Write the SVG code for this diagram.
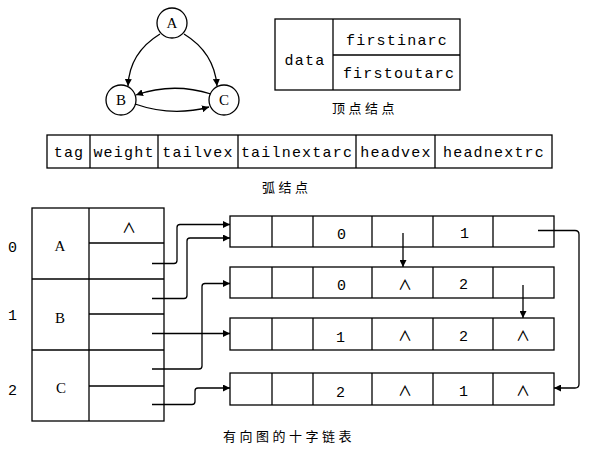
<svg xmlns="http://www.w3.org/2000/svg" width="592" height="451" viewBox="0 0 592 451">
<defs>
<style>
.s{fill:none;stroke:#000;stroke-width:1.3}
.b{fill:#fff;stroke:#000;stroke-width:1.3}
.t{font-family:"Liberation Mono",monospace;font-size:15px;fill:#000;text-anchor:middle;letter-spacing:1.2px}
.n{font-family:"Noto Sans CJK SC",sans-serif;font-size:14px;font-weight:500;fill:#000;text-anchor:middle}
.g{font-family:"Liberation Serif",serif;font-size:15px;fill:#000;text-anchor:middle}
.c{font-family:"Noto Sans CJK SC",sans-serif;font-size:13px;fill:#000;letter-spacing:3.5px}
.a{fill:none;stroke:#000;stroke-width:1.3;marker-end:url(#ah)}
</style>
<marker id="ah" viewBox="0 0 8 8" refX="8" refY="4" markerWidth="7" markerHeight="7" markerUnits="userSpaceOnUse" orient="auto">
<path d="M0,0 L8,4 L0,8 z" fill="#000"/>
</marker>
</defs>

<g id="graph">
<g id="vA"><circle class="b" cx="172" cy="23" r="15"/><text class="g" x="172" y="28">A</text></g>
<g id="vB"><circle class="b" cx="121" cy="100" r="15"/><text class="g" x="121" y="105">B</text></g>
<g id="vC"><circle class="b" cx="224" cy="100" r="15"/><text class="g" x="224" y="105">C</text></g>
</g>
<g id="graph-edges">
<path class="a" d="M160,34 C142,45 129,62 128,86"/>
<path class="a" d="M184,34 C202,45 215,62 217,86"/>
<path class="a" d="M211,94 Q173,82 136,95"/>
<path class="a" d="M135,104 Q172,117 209,107"/>
</g>

<g id="vertex-node">
<rect class="b" x="275" y="19" width="185" height="71"/>
<line class="s" x1="333" y1="19" x2="333" y2="90"/>
<line class="s" x1="333" y1="55" x2="460" y2="55"/>
<text class="t" x="305" y="65">data</text>
<text class="t" x="397" y="45">firstinarc</text>
<text class="t" x="399" y="78">firstoutarc</text>
<text class="c" x="332" y="113">顶点结点</text>
</g>

<g id="arc-node">
<rect class="b" x="47" y="135" width="505" height="33"/>
<line class="s" x1="90" y1="135" x2="90" y2="168"/>
<line class="s" x1="158" y1="135" x2="158" y2="168"/>
<line class="s" x1="238" y1="135" x2="238" y2="168"/>
<line class="s" x1="356" y1="135" x2="356" y2="168"/>
<line class="s" x1="435" y1="135" x2="435" y2="168"/>
<text class="t" x="69" y="157">tag</text>
<text class="t" x="124" y="157">weight</text>
<text class="t" x="198" y="157">tailvex</text>
<text class="t" x="297" y="157">tailnextarc</text>
<text class="t" x="396" y="157">headvex</text>
<text class="t" x="494" y="157">headnextrc</text>
<text class="c" x="262" y="192">弧结点</text>
</g>

<g id="vertex-table">
<rect class="b" x="32" y="208" width="132" height="213"/>
<line class="s" x1="89" y1="208" x2="89" y2="421"/>
<line class="s" x1="32" y1="279" x2="164" y2="279"/>
<line class="s" x1="32" y1="350" x2="164" y2="350"/>
<line class="s" x1="89" y1="243" x2="164" y2="243"/>
<line class="s" x1="89" y1="314" x2="164" y2="314"/>
<line class="s" x1="89" y1="386" x2="164" y2="386"/>
<text class="t" x="13" y="252">0</text>
<text class="t" x="13" y="320">1</text>
<text class="t" x="13" y="395">2</text>
<text class="g" x="60" y="251">A</text>
<text class="g" x="60" y="323">B</text>
<text class="g" x="61" y="393">C</text>
<text class="n" x="129" y="233">∧</text>
</g>

<g id="arc-AB">
<rect class="b" x="230" y="216" width="324" height="31"/>
<line class="s" x1="272" y1="216" x2="272" y2="247"/>
<line class="s" x1="313" y1="216" x2="313" y2="247"/>
<line class="s" x1="372" y1="216" x2="372" y2="247"/>
<line class="s" x1="433" y1="216" x2="433" y2="247"/>
<line class="s" x1="493" y1="216" x2="493" y2="247"/>
<text class="t" x="342" y="239">0</text>
<text class="t" x="465" y="238">1</text>
</g>
<g id="arc-AC">
<rect class="b" x="230" y="267" width="324" height="31"/>
<line class="s" x1="272" y1="267" x2="272" y2="298"/>
<line class="s" x1="313" y1="267" x2="313" y2="298"/>
<line class="s" x1="372" y1="267" x2="372" y2="298"/>
<line class="s" x1="433" y1="267" x2="433" y2="298"/>
<line class="s" x1="493" y1="267" x2="493" y2="298"/>
<text class="t" x="342" y="290">0</text>
<text class="n" x="405" y="290">∧</text>
<text class="t" x="464" y="289">2</text>
</g>
<g id="arc-BC">
<rect class="b" x="230" y="318" width="324" height="32"/>
<line class="s" x1="272" y1="318" x2="272" y2="350"/>
<line class="s" x1="313" y1="318" x2="313" y2="350"/>
<line class="s" x1="372" y1="318" x2="372" y2="350"/>
<line class="s" x1="433" y1="318" x2="433" y2="350"/>
<line class="s" x1="493" y1="318" x2="493" y2="350"/>
<text class="t" x="341" y="342">1</text>
<text class="n" x="405" y="341">∧</text>
<text class="t" x="464" y="341">2</text>
<text class="n" x="523" y="341">∧</text>
</g>
<g id="arc-CB">
<rect class="b" x="230" y="373" width="324" height="32"/>
<line class="s" x1="272" y1="373" x2="272" y2="405"/>
<line class="s" x1="313" y1="373" x2="313" y2="405"/>
<line class="s" x1="372" y1="373" x2="372" y2="405"/>
<line class="s" x1="433" y1="373" x2="433" y2="405"/>
<line class="s" x1="493" y1="373" x2="493" y2="405"/>
<text class="t" x="341" y="397">2</text>
<text class="n" x="405" y="396">∧</text>
<text class="t" x="464" y="396">1</text>
<text class="n" x="523" y="396">∧</text>
</g>

<g id="connectors">
<path class="a" d="M152,263.5 H174 Q177,263.5 177,260.5 V227.5 Q177,224.5 180,224.5 H230"/>
<path class="a" d="M152,298.5 H184 Q187,298.5 187,295.5 V241 Q187,238 190,238 H230"/>
<path class="a" d="M152,333.5 H230"/>
<path class="a" d="M152,369 H199 Q202,369 202,366 V286.5 Q202,283.5 205,283.5 H230"/>
<path class="a" d="M152,404.5 H192 Q195,404.5 195,401.5 V391 Q195,388 198,388 H230"/>
<path class="a" d="M403,233 V267"/>
<path class="a" d="M523,285 V318"/>
<path class="a" d="M538,230.5 H575 Q579,230.5 579,234.5 V384 Q579,388 575,388 H554"/>
</g>

<text class="c" x="223" y="441">有向图的十字链表</text>
</svg>
